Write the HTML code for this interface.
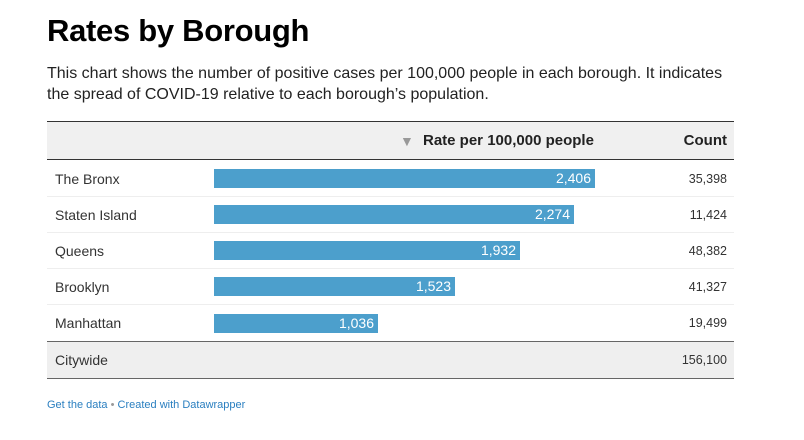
<!DOCTYPE html>
<html><head><style>
body{margin:0;width:804px;height:440px;background:#fff;font-family:"Liberation Sans",Arial,sans-serif;position:relative;overflow:hidden;color:#333}
.a{position:absolute}
h1{position:absolute;left:47px;top:13px;margin:0;font-size:31px;font-weight:bold;color:#000;letter-spacing:-0.3px}
.sub{left:47px;top:63px;font-size:16px;line-height:21px;color:#222;width:690px}
.line{position:absolute;left:47px;width:687px;height:1px;background:#ddd}
.name{position:absolute;left:55px;font-size:14px;color:#333}
.bar{position:absolute;left:214px;height:19px;background:#4c9fcc;color:#fff;font-size:14px;text-align:right;line-height:19px;box-sizing:border-box;padding-right:4px}
.cnt{position:absolute;right:77px;font-size:12.5px;color:#333}
</style></head><body>
<h1>Rates by Borough</h1>
<div class="a sub">This chart shows the number of positive cases per 100,000 people in each borough. It indicates the spread of COVID-19 relative to each borough’s population.</div>
<div class="a" style="left:47px;top:122px;width:687px;height:37px;background:#f0f0f0"></div>
<div class="line" style="top:121px;background:#333"></div>
<div class="line" style="top:159px;background:#333"></div>
<div class="a" style="left:400px;top:133px;font-size:14px;color:#999">▼</div>
<div class="a" style="left:423px;top:132px;font-size:15px;font-weight:bold;color:#222">Rate per 100,000 people</div>
<div class="a" style="right:77px;top:132px;font-size:15px;font-weight:bold;color:#222">Count</div>

<div class="name" style="top:171px">The Bronx</div><div class="bar" style="top:169px;width:381px">2,406</div><div class="cnt" style="top:172px">35,398</div>
<div class="line" style="top:196px;background:#eee"></div>
<div class="name" style="top:207px">Staten Island</div><div class="bar" style="top:205px;width:360px">2,274</div><div class="cnt" style="top:208px">11,424</div>
<div class="line" style="top:232px;background:#eee"></div>
<div class="name" style="top:243px">Queens</div><div class="bar" style="top:241px;width:306px">1,932</div><div class="cnt" style="top:244px">48,382</div>
<div class="line" style="top:268px;background:#eee"></div>
<div class="name" style="top:279px">Brooklyn</div><div class="bar" style="top:277px;width:241px">1,523</div><div class="cnt" style="top:280px">41,327</div>
<div class="line" style="top:304px;background:#eee"></div>
<div class="name" style="top:315px">Manhattan</div><div class="bar" style="top:314px;width:164px">1,036</div><div class="cnt" style="top:316px">19,499</div>

<div class="a" style="left:47px;top:342px;width:687px;height:36px;background:#efefef"></div>
<div class="line" style="top:341px;background:#666"></div>
<div class="line" style="top:378px;background:#666"></div>
<div class="name" style="top:352px;font-size:14px">Citywide</div>
<div class="cnt" style="top:353px">156,100</div>

<div class="a" style="left:47px;top:399px;font-size:11px;color:#2a7fc0">Get the data <span style="color:#999">•</span> Created with Datawrapper</div>
</body></html>
